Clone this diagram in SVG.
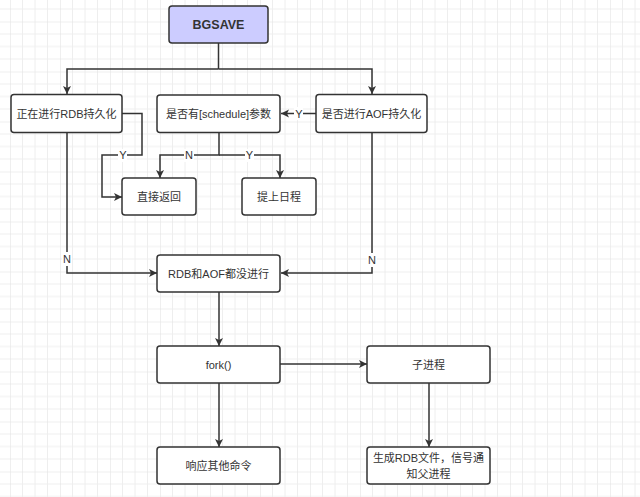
<svg xmlns="http://www.w3.org/2000/svg" width="640" height="497" viewBox="0 0 640 497">
<defs>
<pattern id="grid" width="50" height="50" patternUnits="userSpaceOnUse" patternTransform="translate(10,21.5)">
<path d="M12.5 0V50M25 0V50M37.5 0V50M0 12.5H50M0 25H50M0 37.5H50" stroke="#eeeeee" stroke-width="1" fill="none"/>
<path d="M0 0V50M0 0H50" stroke="#e0e0e0" stroke-width="1" fill="none"/>
</pattern>
<marker id="arr" markerWidth="10" markerHeight="10" refX="9" refY="5" orient="auto" markerUnits="userSpaceOnUse">
<path d="M1 1L9 5L1 9L3 5Z" fill="#333"/>
</marker>
<style>
.box{fill:#fff;stroke:#333;stroke-width:1.5}
.t{font-family:"Liberation Sans","Noto Sans CJK SC",sans-serif;font-size:11px;fill:#333;text-anchor:middle;dominant-baseline:central}
.c{fill:none;stroke:#333;stroke-width:1.5;marker-end:url(#arr)}
.n{fill:none;stroke:#333;stroke-width:1.5}
.lb{font-family:"Liberation Sans",sans-serif;font-size:11px;fill:#333;text-anchor:middle;dominant-baseline:central}
.lbg{fill:#fff}
</style>
</defs>
<rect width="640" height="497" fill="#fff"/>
<rect width="640" height="497" fill="url(#grid)"/>
<g id="connectors">
<path class="n" d="M218.5 43V69"/>
<path class="c" d="M218.5 69H67V94"/>
<path class="c" d="M218.5 69H372V94"/>
<path class="c" d="M316 113.5H281"/>
<rect class="lbg" x="294" y="107" width="9" height="13"/>
<text class="lb" x="299" y="113.5">Y</text>
<path class="c" d="M122 113.5H142V155H102V197H122"/>
<rect class="lbg" x="118" y="149" width="9" height="13"/>
<text class="lb" x="123" y="155">Y</text>
<path class="c" d="M219 132V155H160V178"/>
<path class="c" d="M219 155H280V178"/>
<rect class="lbg" x="184" y="149" width="10" height="13"/>
<text class="lb" x="189" y="155">N</text>
<rect class="lbg" x="245" y="149" width="9" height="13"/>
<text class="lb" x="249.5" y="155">Y</text>
<path class="c" d="M67 132V273H157"/>
<rect class="lbg" x="62" y="252" width="10" height="14"/>
<text class="lb" x="67" y="259">N</text>
<path class="c" d="M372 132V273H281"/>
<rect class="lbg" x="367" y="253" width="10" height="14"/>
<text class="lb" x="372" y="260">N</text>
<path class="c" d="M219 292V346"/>
<path class="c" d="M280 364H367"/>
<path class="c" d="M219 383V447"/>
<path class="c" d="M429 383V447"/>
</g>
<g id="bgsave">
<rect x="169" y="6" width="99" height="37" rx="3" fill="#ccccff" stroke="#333" stroke-width="1.5"/>
<text class="t" x="218.5" y="25" font-weight="bold" style="font-size:12.5px">BGSAVE</text>
</g>
<g id="rdb">
<rect class="box" x="11" y="94.5" width="111" height="38" rx="3"/>
<text class="t" x="66.5" y="114">正在进行RDB持久化</text>
</g>
<g id="schedule">
<rect class="box" x="157" y="95" width="123" height="37.5" rx="3"/>
<text class="t" x="218.5" y="114">是否有[schedule]参数</text>
</g>
<g id="aof">
<rect class="box" x="316" y="94.5" width="111" height="38" rx="3"/>
<text class="t" x="371.5" y="114">是否进行AOF持久化</text>
</g>
<g id="return">
<rect class="box" x="122" y="178" width="74" height="37" rx="3"/>
<text class="t" x="159" y="197">直接返回</text>
</g>
<g id="plan">
<rect class="box" x="242" y="178" width="74" height="37" rx="3"/>
<text class="t" x="279" y="197">提上日程</text>
</g>
<g id="none">
<rect class="box" x="157" y="255" width="123" height="37" rx="3"/>
<text class="t" x="218.5" y="274">RDB和AOF都没进行</text>
</g>
<g id="fork">
<rect class="box" x="157" y="346" width="123" height="37" rx="3"/>
<text class="t" x="218.5" y="365">fork()</text>
</g>
<g id="child">
<rect class="box" x="367" y="346" width="123" height="37" rx="3"/>
<text class="t" x="428.5" y="365">子进程</text>
</g>
<g id="respond">
<rect class="box" x="157" y="447" width="123" height="37" rx="3"/>
<text class="t" x="218.5" y="466">响应其他命令</text>
</g>
<g id="gen">
<rect class="box" x="367" y="447" width="123" height="37" rx="3"/>
<text class="t" x="428.5" y="458">生成RDB文件，信号通</text>
<text class="t" x="428.5" y="474">知父进程</text>
</g>
</svg>
